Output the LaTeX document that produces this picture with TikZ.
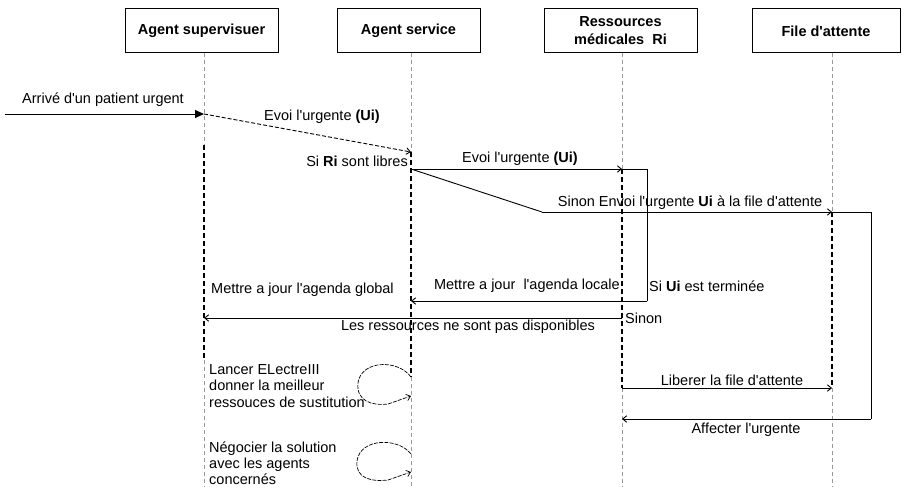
\documentclass[tikz,border=0pt]{standalone}
\usepackage{fontspec}
\setmainfont{Liberation Sans}
\usetikzlibrary{arrows.meta}
\newcommand{\ap}{\textquotesingle}
\begin{document}
\begin{tikzpicture}[x=1pt,y=-1pt,
  every node/.style={font=\fontsize{14.5}{16.5}\selectfont, inner sep=0pt},
  headbox/.style={draw, line width=1pt, minimum height=44pt, inner sep=0pt,
    font=\fontsize{14.5}{18}\selectfont\bfseries, align=center},
  lifegrey/.style={draw=black!40, line width=0.6pt, dash pattern=on 4pt off 3pt},
  lifeblack/.style={draw=black, line width=1.1pt, dash pattern=on 5pt off 3pt},
  conn/.style={line width=0.9pt},
  tip/.style={-{Straight Barb[length=4pt,width=6.5pt]}},
  msg/.style={conn, tip},
  loopline/.style={line width=0.7pt, dash pattern=on 4pt off 1.2pt, tip},
  lbl/.style={anchor=center},
]
\useasboundingbox (0,0) rectangle (904,487);

% heading boxes
\node[headbox, minimum width=153pt] (A) at (201.5,31) {Agent supervisuer};
\node[headbox, minimum width=143pt] (B) at (408.5,31) {Agent service};
\node[headbox, minimum width=153pt] (C) at (620.5,31) {Ressources\\m\'edicales~~Ri};
\node[headbox, minimum width=148pt] (D) at (826,31) {File d\ap attente};

% lifeline coordinates
\foreach \n/\x in {a/204,b/411,c/622,d/832}{
  \coordinate (\n-top) at (\x,53);
  \coordinate (\n-bot) at (\x,487);
}
\coordinate (a-s) at (204,145); \coordinate (a-e) at (204,360);
\coordinate (b-s) at (411,152); \coordinate (b-e) at (411,377);
\coordinate (c-s) at (622,169); \coordinate (c-e) at (622,388);
\coordinate (d-s) at (832,212); \coordinate (d-e) at (832,388);
\foreach \n in {a,b,c,d}{
  \draw[lifegrey] (\n-top) -- (\n-s);
  \draw[lifeblack] (\n-s) -- (\n-e);
  \draw[lifegrey] (\n-e) -- (\n-bot);
}

% message coordinates
\coordinate (in0) at (5,114);
\coordinate (a1) at (204,114);
\coordinate (b1) at (411,152);
\coordinate (b2) at (411,169);
\coordinate (c2) at (622,169);
\coordinate (r1) at (647,169);
\coordinate (r2) at (647,301);
\coordinate (b3) at (411,301);
\coordinate (k1) at (542,212);
\coordinate (d1) at (832,212);
\coordinate (r3) at (871,212);
\coordinate (r4) at (871,419);
\coordinate (c4) at (622,419);
\coordinate (c3) at (622,318);
\coordinate (a2) at (204,318);
\coordinate (c5) at (622,388);
\coordinate (d2) at (832,388);

% arrival
\draw[conn, -{Triangle[length=9pt,width=8pt]}] (in0) -- (a1);
\node[lbl] (t1) at (103,100) {Arriv\'e d\ap un patient urgent};

% send to service
\draw[conn, dash pattern=on 4pt off 2pt, tip] (a1) -- (b1);
\node[lbl] (t2) at (322,117) {Evoi l\ap urgente \textbf{(Ui)}};
\node[anchor=east] (t3) at (408,161) {Si \textbf{Ri} sont libres};

% send to resources
\draw[msg] (b2) -- (c2);
\node[lbl] (t4) at (520,159) {Evoi l\ap urgente \textbf{(Ui)}};
\draw[conn] (c2) -- (r1) -- (r2);
\draw[msg] (r2) -- (b3);
\node[anchor=east] (t5) at (620,286) {Mettre a jour~~l\ap agenda locale};
\node[anchor=west] (t6) at (649,286) {Si \textbf{Ui} est termin\'ee};

% else to queue
\draw[conn] (b2) -- (k1);
\draw[msg] (k1) -- (d1);
\node[lbl] (t7) at (690,203) {Sinon Envoi l\ap urgente \textbf{Ui} \`a la file d\ap attente};
\draw[conn] (d1) -- (r3) -- (r4);
\draw[msg] (r4) -- (c4);
\node[lbl] (t8) at (746,430) {Affecter l\ap urgente};

% global agenda
\node[anchor=west] (t9) at (211,290) {Mettre a jour l\ap agenda global};

% not available
\draw[msg] (c3) -- (a2);
\node[anchor=west] (t10) at (625,318) {Sinon};
\node[lbl] (t11) at (468,327) {Les ressources ne sont pas disponibles};

% free queue
\draw[msg] (c5) -- (d2);
\node[lbl] (t12) at (732,380) {Liberer la file d\ap attente};

% self loops
\coordinate (l1s) at (411,377);
\coordinate (l1e) at (411,396);
\draw[loopline] (l1s) .. controls (398,359) and (361,360) .. (358,383)
  .. controls (356,401) and (372,406) .. (388,404) -- (l1e);
\node[anchor=west, align=left] (t13) at (209,386) {Lancer ELectreIII\\donner la meilleur\\ressouces de sustitution};

\coordinate (l2s) at (411,454);
\coordinate (l2e) at (411,472);
\draw[loopline] (l2s) .. controls (398,437) and (360,438) .. (357,461)
  .. controls (355,478) and (371,482) .. (388,480) -- (l2e);
\node[anchor=west, align=left, font=\fontsize{14.5}{16}\selectfont] (t14) at (209,463) {N\'egocier la solution\\avec les agents\\concern\'es};
\end{tikzpicture}
\end{document}
